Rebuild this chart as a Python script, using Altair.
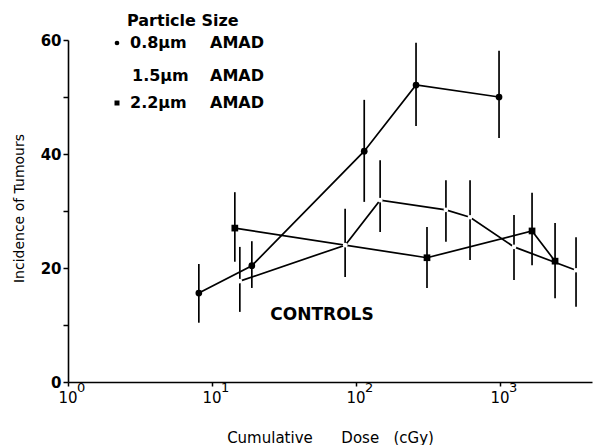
import altair as alt
import pandas as pd

# ---- data ----
dose_08 = [8.1, 18.9, 114, 261, 984]
inc_08 = [15.6, 20.4, 40.5, 52.1, 50.0]
lo_08 = [10.4, 16.5, 31.6, 44.9, 42.8]
hi_08 = [20.7, 24.7, 49.5, 59.5, 58.1]

dose_15 = [15.6, 84, 147, 421, 619, 1250, 3370]
inc_15 = [17.7, 24.0, 31.9, 30.2, 28.9, 23.7, 19.6]
lo_15 = [12.3, 18.4, 26.3, 24.6, 21.4, 17.9, 13.2]
hi_15 = [23.7, 30.4, 38.9, 35.4, 35.4, 29.3, 25.4]

dose_22 = [14.4, 311, 1668, 2410]
inc_22 = [27.0, 21.8, 26.5, 21.2]
lo_22 = [21.1, 16.5, 20.5, 14.7]
hi_22 = [33.3, 27.2, 33.2, 27.9]

x_tick_values = [1, 10, 100, 1000]
x_tick_base = ["10", "10", "10", "10"]
x_tick_exp = ["0", "1", "2", "3"]
y_tick_values = [0, 10, 20, 30, 40, 50, 60]

legend_title = "Particle Size"
legend_sizes = ["0.8µm", "1.5µm", "2.2µm"]
legend_unit = "AMAD"
controls_label = "CONTROLS"

rows = []
for name, d, v, lo, hi in [
    ("0.8", dose_08, inc_08, lo_08, hi_08),
    ("1.5", dose_15, inc_15, lo_15, hi_15),
    ("2.2", dose_22, inc_22, lo_22, hi_22),
]:
    for a, b, c, e in zip(d, v, lo, hi):
        rows.append({"series": name, "dose": a, "inc": b, "lo": c, "hi": e})
df = pd.DataFrame(rows)

ticks_df = pd.DataFrame({"dose": x_tick_values, "base": x_tick_base, "exp": x_tick_exp})

FONT = "DejaVu Sans"

xscale = alt.Scale(type="log", domain=[1, 4350], nice=False)
yscale = alt.Scale(domain=[0, 60], nice=False, zero=True)

xaxis = alt.Axis(
    values=x_tick_values, labels=False, grid=False,
    tickSize=4, tickColor="black", tickWidth=1.5,
    domainColor="black", domainWidth=1.6,
    title="Cumulative\u00a0\u00a0\u00a0\u00a0\u00a0\u00a0Dose\u00a0\u00a0\u00a0(cGy)",
    titleFont=FONT, titleFontSize=15, titleFontWeight="normal", titleColor="black",
    titleY=55, titleBaseline="middle",
)
yaxis = alt.Axis(
    values=y_tick_values, grid=False,
    labelExpr="datum.value % 20 == 0 ? datum.label : ''",
    labelFont=FONT, labelFontSize=15, labelFontWeight="bold", labelColor="black",
    labelPadding=2,
    tickSize=5, tickColor="black", tickWidth=1.5,
    domainColor="black", domainWidth=1.6,
    title="Incidence of Tumours",
    titleFont=FONT, titleFontSize=14, titleFontWeight="normal", titleColor="black",
    titleX=-49, titleY=168, titleAngle=-90, titleBaseline="middle", titleAlign="center",
)

X = alt.X("dose:Q", scale=xscale, axis=xaxis)
Y = alt.Y("inc:Q", scale=yscale, axis=yaxis)

base = alt.Chart(df)

lines = base.mark_line(color="black", strokeWidth=1.7).encode(
    x=X, y=Y, detail="series:N", order="dose:Q"
)
errbars = base.mark_rule(color="black", strokeWidth=1.7).encode(
    x=X, y=alt.Y("lo:Q", scale=yscale, axis=yaxis), y2="hi:Q"
)
gaps = base.transform_filter(alt.datum.series == "1.5").mark_circle(
    color="white", size=22, opacity=1
).encode(x=X, y=Y)
circles = base.transform_filter(alt.datum.series == "0.8").mark_circle(
    color="black", size=45, opacity=1
).encode(x=X, y=Y)
squares = base.transform_filter(alt.datum.series == "2.2").mark_square(
    color="black", size=45, opacity=1
).encode(x=X, y=Y)

tick_base = alt.Chart(ticks_df).mark_text(
    font=FONT, fontSize=15, color="black", baseline="middle", align="center"
).encode(x=X, y=alt.value(358), text="base:N")
tick_exp = alt.Chart(ticks_df).mark_text(
    font=FONT, fontSize=13, color="black", baseline="middle", align="left", dx=9
).encode(x=X, y=alt.value(348), text="exp:N")


def label(text, x, y, size=15, weight="bold", align="left"):
    return alt.Chart(pd.DataFrame({"t": [text]})).mark_text(
        font=FONT, fontSize=size, fontWeight=weight, color="black",
        align=align, baseline="middle"
    ).encode(x=alt.value(x), y=alt.value(y), text="t:N")


one = pd.DataFrame({"t": [""]})
leg_dot = alt.Chart(one).mark_circle(color="black", size=22, opacity=1).encode(
    x=alt.value(49), y=alt.value(3)
)
leg_sq = alt.Chart(one).mark_square(color="black", size=25, opacity=1).encode(
    x=alt.value(49), y=alt.value(63)
)

legend_layers = [
    label(legend_title, 59, -19, size=16),
    leg_dot,
    label(legend_sizes[0], 62, 3, size=16),
    label(legend_unit, 142, 3, size=16),
    label(legend_sizes[1], 64, 36, size=16),
    label(legend_unit, 142, 36, size=16),
    leg_sq,
    label(legend_sizes[2], 62, 63, size=16),
    label(legend_unit, 142, 63, size=16),
    label(controls_label, 254, 275, size=17, align="center"),
]

chart = alt.layer(
    lines, errbars, gaps, circles, squares, tick_base, tick_exp, *legend_layers
).properties(
    width=524, height=342,
    padding={"left": 68, "top": 40, "right": 2, "bottom": 63},
    autosize=alt.AutoSizeParams(type="none"),
    background="white",
).configure_view(stroke=None)

chart.save("out.html", embed_options={"renderer": "svg", "actions": False})
